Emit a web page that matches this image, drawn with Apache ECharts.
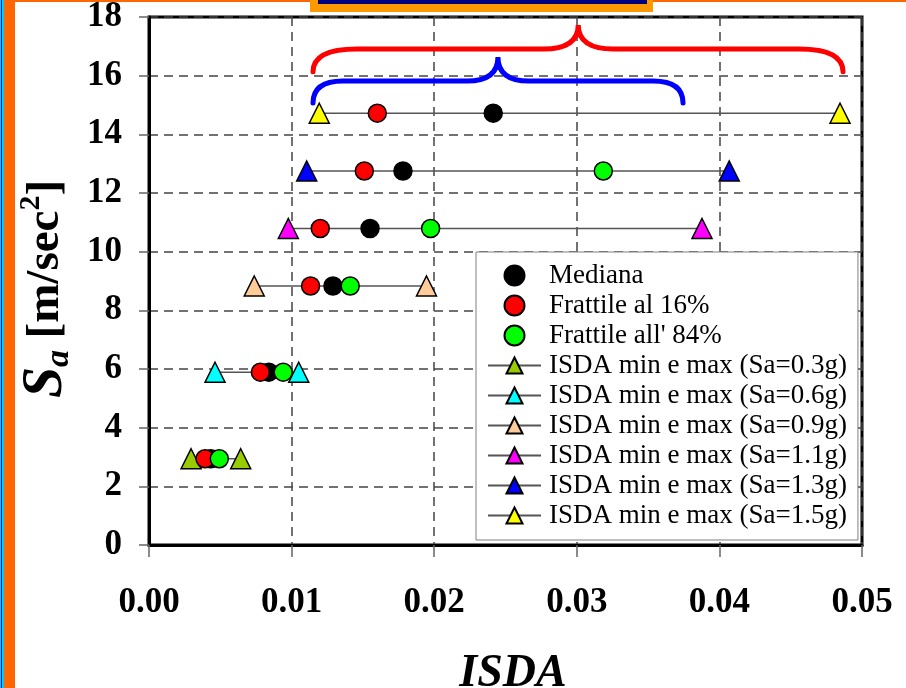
<!DOCTYPE html>
<html>
<head>
<meta charset="utf-8">
<script src="https://cdn.jsdelivr.net/npm/echarts@6/dist/echarts.min.js"></script>
<style>
  html, body { margin: 0; padding: 0; background: #fff; }
  #chart { width: 906px; height: 688px; }
</style>
</head>
<body>
<div id="chart"></div>
<script>
// one row per spectral acceleration level, Sa in m/sec^2
const saValues = [2.94, 5.89, 8.83, 10.79, 12.75, 14.72];
const saLabels = ['0.3g', '0.6g', '0.9g', '1.1g', '1.3g', '1.5g'];

// ISDA values
const mediana = [0.00433, 0.0084, 0.0129, 0.0155, 0.01781, 0.02414];
const frattile16 = [0.00393, 0.00781, 0.01133, 0.01201, 0.0151, 0.01601];
const frattile84 = [0.00493, 0.00941, 0.01411, 0.01975, 0.03186, null];
const isdaMin = [0.00295, 0.00463, 0.00738, 0.00977, 0.01106, 0.01194];
const isdaMax = [0.00643, 0.0105, 0.01946, 0.03878, 0.04069, 0.04846];

const isdaColors = ['#99CC00', '#00FFFF', '#FFCC99', '#FF00FF', '#0000FF', '#FFFF00'];

// curly braces over the top rows: [x start, x tip, x end, y ends, y bar, y tip]
const braces = [
  [0.0115, 0.0301, 0.04867, 16.13, 16.91, 17.73],
  [0.0115, 0.02447, 0.03745, 15.07, 15.82, 16.64]
];
const braceColors = ['#FF0000', '#0000FF'];

const FONT = 'Liberation Serif';

const chart = echarts.init(document.getElementById('chart'));

// build [x, y] points, skipping missing values
function points(xs) {
  const out = [];
  xs.forEach((x, i) => {
    if (x !== null) out.push([x, saValues[i]]);
  });
  return out;
}

function dotSeries(name, xs, color) {
  return {
    name: name,
    type: 'scatter',
    data: points(xs),
    symbol: 'circle',
    symbolSize: 18,
    z: 3,
    itemStyle: { color: color, borderColor: '#000', borderWidth: 1.5, opacity: 1 }
  };
}

// draw a curly brace in pixel space from data anchor points
function renderBrace(params, api) {
  const l = api.coord([api.value(0), api.value(3)]);
  const m = api.coord([api.value(1), api.value(5)]);
  const r = api.coord([api.value(2), api.value(3)]);
  const bar = api.coord([api.value(1), api.value(4)])[1];
  const corner = params.dataIndex === 0 ? 44 : 30;
  const tip = params.dataIndex === 0 ? 35 : 31;
  const d = [
    'M', l[0], l[1],
    'Q', l[0], bar, l[0] + corner, bar,
    'L', m[0] - tip, bar,
    'Q', m[0], bar, m[0], m[1],
    'Q', m[0], bar, m[0] + tip, bar,
    'L', r[0] - corner, bar,
    'Q', r[0], bar, r[0], r[1]
  ].join(' ');
  return {
    type: 'path',
    shape: { pathData: d },
    style: {
      fill: 'none',
      stroke: braceColors[params.dataIndex],
      lineWidth: 5,
      lineCap: 'round'
    }
  };
}

const series = [
  dotSeries('Mediana', mediana, '#000000'),
  dotSeries('Frattile al 16%', frattile16, '#FF0000'),
  dotSeries("Frattile all' 84%", frattile84, '#00FF00')
];

saLabels.forEach((lab, i) => {
  series.push({
    name: 'ISDA min e max (Sa=' + lab + ')',
    type: 'line',
    data: [[isdaMin[i], saValues[i]], [isdaMax[i], saValues[i]]],
    symbol: 'triangle',
    symbolSize: 20,
    z: 1,
    lineStyle: { color: '#555', width: 1.5 },
    itemStyle: { color: isdaColors[i], borderColor: '#000', borderWidth: 1.5 }
  });
});

series.push({
  type: 'custom',
  data: braces,
  renderItem: renderBrace,
  z: 5,
  silent: true
});

const option = {
  animation: false,
  backgroundColor: '#fff',
  textStyle: { fontFamily: FONT },
  grid: {
    left: 149, right: 44, top: 17, bottom: 143,
    outerBoundsMode: 'none',
    containLabel: false,
    show: true, borderColor: '#000', borderWidth: 3
  },
  legend: {
    orient: 'vertical',
    left: 476,
    top: 252,
    padding: [10, 11, 11, 11],
    itemWidth: 53,
    itemHeight: 20,
    itemGap: 3,
    backgroundColor: '#fff',
    borderColor: '#808080',
    borderWidth: 1,
    borderRadius: 0,
    textStyle: { fontFamily: FONT, fontSize: 27, color: '#000', padding: [0, 0, 0, 3] },
    data: series.filter((s) => s.name).map((s) => s.name)
  },
  xAxis: {
    type: 'value',
    min: 0,
    max: 0.05,
    interval: 0.01,
    name: 'ISDA',
    nameLocation: 'middle',
    nameGap: 106,
    nameTextStyle: {
      fontFamily: FONT, fontSize: 46, fontWeight: 'bold', fontStyle: 'italic',
      color: '#000', lineHeight: 46, padding: [0, 0, 0, 15]
    },
    axisLine: { lineStyle: { color: '#000', width: 3 } },
    axisTick: { show: true, length: 12, lineStyle: { color: '#666', width: 1.5 } },
    axisLabel: {
      margin: 40,
      fontFamily: FONT, fontSize: 35, fontWeight: 'bold', color: '#000',
      formatter: (v) => v.toFixed(2)
    },
    splitLine: { lineStyle: { color: '#444', width: 1.5, type: [9, 6] } }
  },
  yAxis: {
    type: 'value',
    min: 0,
    max: 18,
    interval: 2,
    name: '{s|S}{a|a}{g| }{b|[m/sec}{sup|2}{b|]}',
    nameLocation: 'middle',
    nameRotate: 90,
    nameGap: 68,
    nameTextStyle: {
      color: '#000',
      padding: [0, 16, 0, 0],
      rich: {
        s: { fontFamily: FONT, fontSize: 56, fontWeight: 'bold', fontStyle: 'italic', lineHeight: 60, verticalAlign: 'middle' },
        a: { fontFamily: FONT, fontSize: 34, fontWeight: 'bold', fontStyle: 'italic', lineHeight: 38, verticalAlign: 'bottom' },
        g: { fontFamily: FONT, fontSize: 46, lineHeight: 60 },
        b: { fontFamily: FONT, fontSize: 47, fontWeight: 'bold', lineHeight: 60, verticalAlign: 'middle' },
        sup: { fontFamily: FONT, fontSize: 30, fontWeight: 'bold', lineHeight: 32, verticalAlign: 'top' }
      }
    },
    axisLine: { lineStyle: { color: '#000', width: 3 } },
    axisTick: { show: true, length: 10, lineStyle: { color: '#666', width: 1.5 } },
    axisLabel: {
      margin: 27,
      fontFamily: FONT, fontSize: 35, fontWeight: 'bold', color: '#000'
    },
    splitLine: { lineStyle: { color: '#444', width: 1.5, type: [9, 6] } }
  },
  graphic: [
    // slide frame pieces visible at the left and top edges
    { type: 'rect', left: 0, top: 0, shape: { width: 4, height: 688 }, style: { fill: '#00CCFF' } },
    { type: 'rect', left: 1, top: 0, shape: { width: 1, height: 688 }, style: { fill: '#0000FF' } },
    { type: 'rect', left: 4, top: 0, shape: { width: 11, height: 688 }, style: { fill: '#FF6600' } },
    { type: 'rect', left: 15, top: 0, shape: { width: 891, height: 2 }, style: { fill: '#FF6600' } },
    { type: 'rect', left: 310, top: 0, shape: { width: 343, height: 12 }, style: { fill: '#FF9900' } },
    { type: 'rect', left: 318, top: 0, shape: { width: 329, height: 4 }, style: { fill: '#000080' } }
  ],
  series: series
};

chart.setOption(option);
</script>
</body>
</html>
